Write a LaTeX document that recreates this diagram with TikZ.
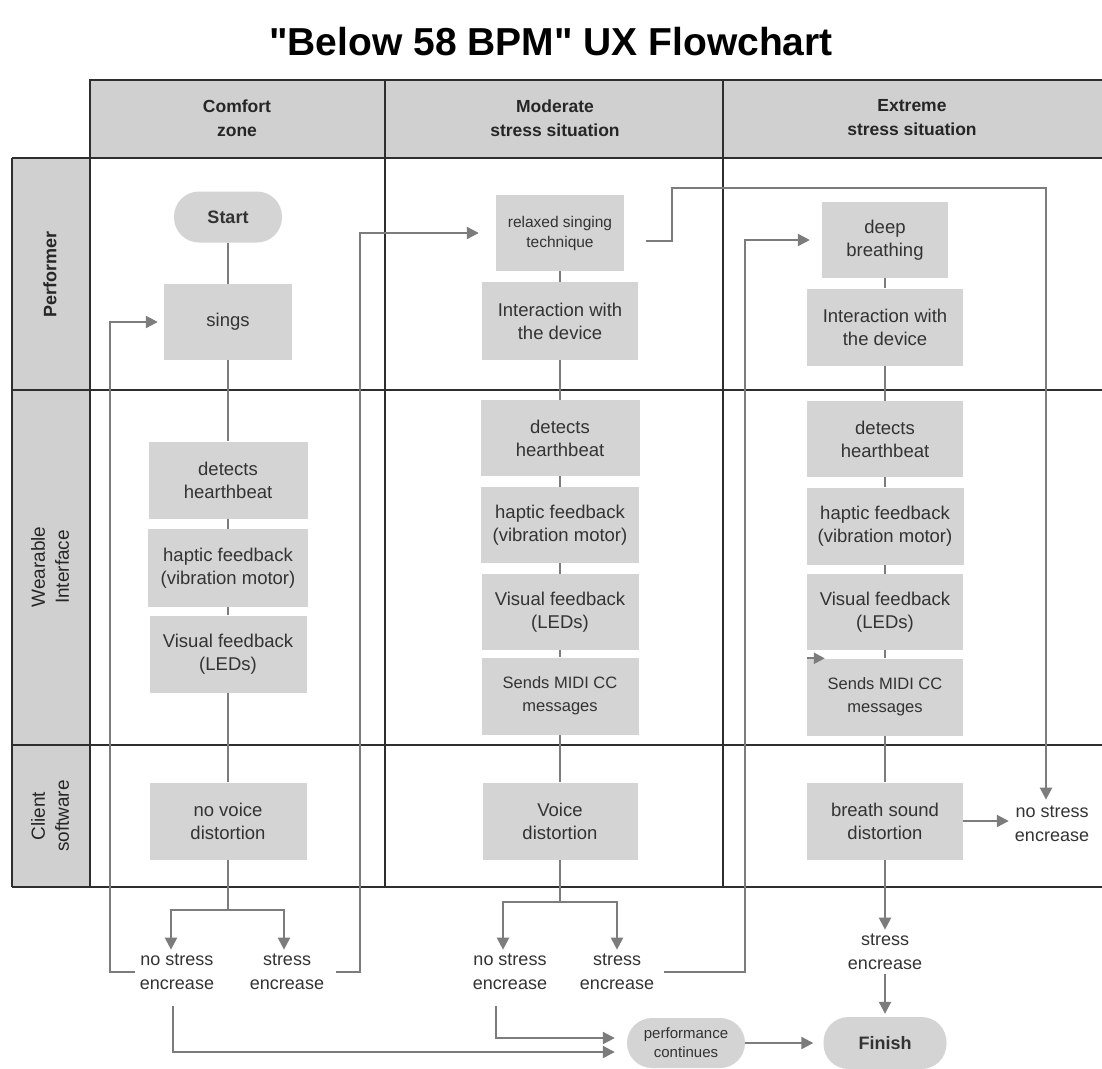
\documentclass[tikz,border=0pt]{standalone}
\usepackage{fontspec}
\setmainfont{Liberation Sans}
\newfontfamily\titlefont[Ligatures=ResetAll]{Liberation Sans}
\usetikzlibrary{arrows.meta}
\definecolor{boxgray}{HTML}{D4D4D4}
\definecolor{hdrgray}{HTML}{D0D0D0}
\definecolor{linegray}{HTML}{7C7C7C}
\definecolor{txt}{HTML}{333333}
\definecolor{gridc}{HTML}{2E2E2E}
\begin{document}
\begin{tikzpicture}[x=1pt,y=-1pt,
  box/.style={fill=boxgray, align=center, inner sep=0pt, text=txt, font=\fontsize{18.5}{23}\selectfont},
  smallbox/.style={box, font=\fontsize{15.5}{20}\selectfont},
  midibox/.style={box, font=\fontsize{16.5}{23}\selectfont},
  term/.style={box, rounded corners=25pt, font=\bfseries\fontsize{18}{22}\selectfont},
  lbl/.style={align=center, inner sep=0pt, text=txt, font=\fontsize{18}{24.5}\selectfont},
  conn/.style={draw=linegray, line width=2.2pt},
  arr/.style={conn, -{Triangle[length=12pt,width=12pt]}},
  gridline/.style={draw=gridc, line width=1.6pt},
  hdr/.style={align=center, inner sep=0pt, font=\bfseries\fontsize{17.5}{24}\selectfont, text=black!85},
  rowlbl/.style={align=center, inner sep=0pt, rotate=90, text=black!85, font=\fontsize{19}{24}\selectfont},
]
\useasboundingbox[fill=white] (0,0) rectangle (1102,1068);

% title
\node[font=\titlefont\bfseries\fontsize{39}{44}\selectfont] (title) at (551,42) {"Below 58 BPM" UX Flowchart};

% swimlane grid
\fill[hdrgray] (90,80) rectangle (1102,158);
\fill[hdrgray] (12,158) rectangle (90,887);
\draw[gridline] (90,158) -- (90,80) -- (1102,80);
\draw[gridline] (12,158) -- (1102,158);
\draw[gridline] (12,390) -- (1102,390);
\draw[gridline] (12,745) -- (1102,745);
\draw[gridline] (12,887) -- (1102,887);
\draw[gridline] (12,158) -- (12,887);
\draw[gridline] (90,158) -- (90,887);
\draw[gridline] (385,80) -- (385,887);
\draw[gridline] (723,80) -- (723,887);

% headers
\node[hdr] (h1) at (237,118) {Comfort\\zone};
\node[hdr] (h2) at (555,118) {Moderate\\stress situation};
\node[hdr] (h3) at (912,118) {Extreme\\stress situation};
\node[rowlbl, font=\bfseries\fontsize{18}{23}\selectfont] (r1) at (50,274) {Performer};
\node[rowlbl] (r2) at (50,567) {Wearable\\Interface};
\node[rowlbl] (r3) at (50,816) {Client\\software};

% column 1
\node[term, minimum width=108pt, minimum height=51pt] (start) at (228,217) {Start};
\node[box, minimum width=128pt, minimum height=76pt] (sings) at (228,322) {sings};
\node[box, minimum width=159pt, minimum height=77pt] (det1) at (228,480) {detects\\hearthbeat};
\node[box, minimum width=160pt, minimum height=78pt] (hap1) at (228,568) {haptic feedback\\(vibration motor)};
\node[box, minimum width=157pt, minimum height=77pt] (vis1) at (228,654) {Visual feedback\\(LEDs)};
\node[box, minimum width=157pt, minimum height=77pt] (nv) at (228,821) {no voice\\distortion};

% column 2
\node[smallbox, minimum width=128pt, minimum height=76pt] (rel) at (560,233) {relaxed singing\\technique};
\node[box, minimum width=156pt, minimum height=78pt] (int2) at (560,321) {Interaction with\\the device};
\node[box, minimum width=159pt, minimum height=76pt] (det2) at (560,438) {detects\\hearthbeat};
\node[box, minimum width=158pt, minimum height=76pt] (hap2) at (560,525) {haptic feedback\\(vibration motor)};
\node[box, minimum width=157pt, minimum height=76pt] (vis2) at (560,612) {Visual feedback\\(LEDs)};
\node[midibox, minimum width=157pt, minimum height=77pt] (sm2) at (560,696) {Sends MIDI CC\\messages};
\node[box, minimum width=155pt, minimum height=77pt] (voice) at (560,821) {Voice\\distortion};

% column 3
\node[box, minimum width=126pt, minimum height=76pt] (deep) at (885,240) {deep\\breathing};
\node[box, minimum width=156pt, minimum height=77pt] (int3) at (885,327) {Interaction with\\the device};
\node[box, minimum width=156pt, minimum height=76pt] (det3) at (885,439) {detects\\hearthbeat};
\node[box, minimum width=157pt, minimum height=77pt] (hap3) at (885,526) {haptic feedback\\(vibration motor)};
\node[box, minimum width=156pt, minimum height=76pt] (vis3) at (885,612) {Visual feedback\\(LEDs)};
\node[midibox, minimum width=156pt, minimum height=77pt] (sm3) at (885,697) {Sends MIDI CC\\messages};
\node[box, minimum width=156pt, minimum height=77pt] (br) at (885,821) {breath sound\\distortion};

% outcome labels
\node[lbl] (ns1) at (177,972) {no stress\\encrease};
\node[lbl] (ss1) at (287,972) {stress\\encrease};
\node[lbl] (ns2) at (510,972) {no stress\\encrease};
\node[lbl] (ss2) at (617,972) {stress\\encrease};
\node[lbl] (ns3) at (1052,824) {no stress\\encrease};
\node[lbl] (se3) at (885,952) {stress\\encrease};

% terminals at bottom
\node[term, minimum width=118pt, minimum height=50pt, font=\fontsize{15}{19}\selectfont] (perf) at (686,1043) {performance\\continues};
\node[term, minimum width=123pt, minimum height=52pt] (fin) at (885,1043) {Finish};

% trunks
\draw[conn] (start) -- (sings) -- (det1) -- (hap1) -- (vis1) -- (nv);
\draw[conn] (rel) -- (int2) -- (det2) -- (hap2) -- (vis2) -- (sm2) -- (voice);
\draw[conn] (deep) -- (int3) -- (det3) -- (hap3) -- (vis3) -- (sm3) -- (br);

% branches
\coordinate (b1) at (228,910);
\coordinate (b2) at (560,902);
\draw[conn] (nv.south) -- (b1);
\draw[arr] (b1) -| ([xshift=-6pt,yshift=4pt]ns1.north);
\draw[arr] (b1) -| ([xshift=-3pt,yshift=4pt]ss1.north);
\draw[conn] (voice.south) -- (b2);
\draw[arr] (b2) -| ([xshift=-7pt,yshift=4pt]ns2.north);
\draw[arr] (b2) -| ([yshift=4pt]ss2.north);

% feedback loops
\draw[arr] ([xshift=-5pt]ns1.west) -- (110,972) |- ([xshift=-6pt]sings.west);
\draw[arr] ([xshift=12pt]ss1.east) -- (360,972) |- ([xshift=-17pt]rel.west);
\draw[arr] ([xshift=22pt,yshift=-8pt]rel.east) -- (672,241) -- (672,188) -- (1046,188) -- ([yshift=6pt]ns3.north -| 1046,0);
\draw[arr] ([xshift=10pt]ss2.east) -- (745,972) |- ([xshift=-12pt]deep.west);

% column 3 exits
\draw[arr] (br.east) -- ([xshift=-6pt]ns3.west |- br.east);
\draw[arr] (br.south) -- ([yshift=4pt]se3.north);
\draw[arr] ([yshift=-4pt]se3.south) -- ([yshift=3pt]fin.north);

% to performance continues / finish
\draw[arr] ([xshift=-4pt,yshift=-16pt]ns1.south) |- ([xshift=-12pt,yshift=-9pt]perf.west);
\draw[arr] ([xshift=-14pt,yshift=-16pt]ns2.south) |- ([xshift=-12pt,yshift=5pt]perf.west);
\draw[arr] (perf.east) -- ([xshift=-10pt]fin.west);

% stray arrowhead near Sends MIDI CC (col 3)
\draw[conn, -{Triangle[length=11pt,width=11pt]}] (sm3.north west) -- ([xshift=18pt]sm3.north west);
\end{tikzpicture}
\end{document}
